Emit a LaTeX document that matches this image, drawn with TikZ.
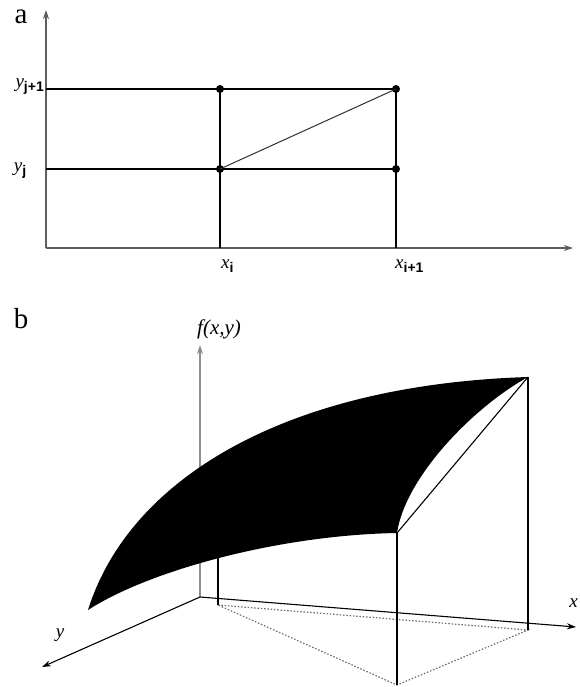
\documentclass[tikz,border=0pt]{standalone}
\usepackage{fontspec}
\setmainfont{Liberation Serif}
\newfontfamily\subsans{Liberation Sans}
\usepackage{tikz}
\usetikzlibrary{
  arrows.meta,
  positioning,
  calc
}
\definecolor{AxisGrey}{HTML}{5E5E5E}
\definecolor{FloorGrey}{HTML}{6E6E6E}
\newcommand{\idx}[2]{\textit{#1}\raisebox{-0.45ex}{\fontsize{14}{14}\selectfont\subsans\bfseries #2}}

\tikzset{
  axisline/.style={draw=AxisGrey,line width=1.6pt,-{Stealth[length=9pt,width=6pt]}},
  gridline/.style={line width=1.5pt},
  meshdot/.style={circle,fill=black,inner sep=0pt,minimum size=8pt},
  floorline/.style={draw=FloorGrey,line width=1.2pt,dash pattern=on 1.5pt off 1.8pt},
  lbl/.style={font=\fontsize{19}{19}\selectfont,inner sep=0pt},
  panel/.style={font=\fontsize{29}{29}\selectfont,inner sep=0pt}
}

\begin{document}
\begin{tikzpicture}[x=1pt,y=-1pt]
\useasboundingbox (0,0) rectangle (579,687);
% a: the grid cell
\node[panel] (pa) at (21,17) {a};
\coordinate (oa) at (46,248);
\coordinate (ytop) at (46,10);
\coordinate (xend) at (573,248);
\draw[axisline] (oa) -- (ytop);
\draw[axisline] (oa) -- (xend);
\coordinate (xi) at (220,248);
\coordinate (xii) at (396,248);
\coordinate (yj) at (46,169);
\coordinate (yjj) at (46,89);
\draw[gridline] (yjj) -- (396,89);
\draw[gridline] (yj) -- (396,169);
\draw[gridline,line width=1.9pt] (xi) -- (220,89);
\draw[gridline,line width=1.9pt] (xii) -- (396,89);
\node[meshdot] (p00) at (220,169) {};
\node[meshdot] (p01) at (220,89) {};
\node[meshdot] (p10) at (396,169) {};
\node[meshdot] (p11) at (396,89) {};
\draw[line width=1pt,black!80] (p00.center) -- (p11.center);
\node[lbl,anchor=east] (lyjj) at (44,87) {\idx{y}{j+1}};
\node[lbl] (lyj) at (20,171) {\idx{y}{j}};
\node[lbl,anchor=west] (lxi) at (221,266) {\idx{x}{i}};
\node[lbl,anchor=west] (lxii) at (395,266) {\idx{x}{i+1}};

% b: the surface over the cell
\node[panel] (pb) at (21,319) {b};
\coordinate (ob) at (200,597);
\coordinate (ztop) at (200,345);
\coordinate (yend) at (42,667);
\coordinate (xendb) at (576,627);
\coordinate (ga) at (218,605);
\coordinate (gb) at (397,685);
\coordinate (gc) at (528,630);
\coordinate (sa) at (218,545);
\coordinate (sb) at (397,533);
\coordinate (sc) at (528,377);
\coordinate (tip) at (88,610);
\draw[axisline,draw=AxisGrey!70] (ob) -- (ztop);
\draw[line width=1.1pt,-{Stealth[length=9pt,width=6pt]}] (ob) -- (yend);
\draw[line width=1.1pt,-{Stealth[length=9pt,width=6pt]}] (ob) -- (xendb);
\draw[floorline] (ga) -- (gc) -- (gb) -- (ga);
\draw[line width=1.3pt] (ga) -- (sa);
\draw[line width=1.3pt] (gb) -- (sb);
\draw[line width=1.3pt] (gc) -- (sc);
\fill (tip) .. controls (128,482) and (280,385) .. (sc)
  .. controls (472,408) and (405,478) .. (sb)
  .. controls (280,535) and (150,570) .. (tip);
\draw[line width=1.1pt] (sb) -- (sc);
\node[lbl,font=\fontsize{21}{21}\selectfont\itshape,anchor=south west] (lf) at (197,339) {f(x,y)};
\node[lbl,font=\fontsize{19}{19}\selectfont\itshape] (ly) at (60,635) {y};
\node[lbl,font=\fontsize{19}{19}\selectfont\itshape,anchor=east] (lx) at (578,603) {x};
\end{tikzpicture}
\end{document}
